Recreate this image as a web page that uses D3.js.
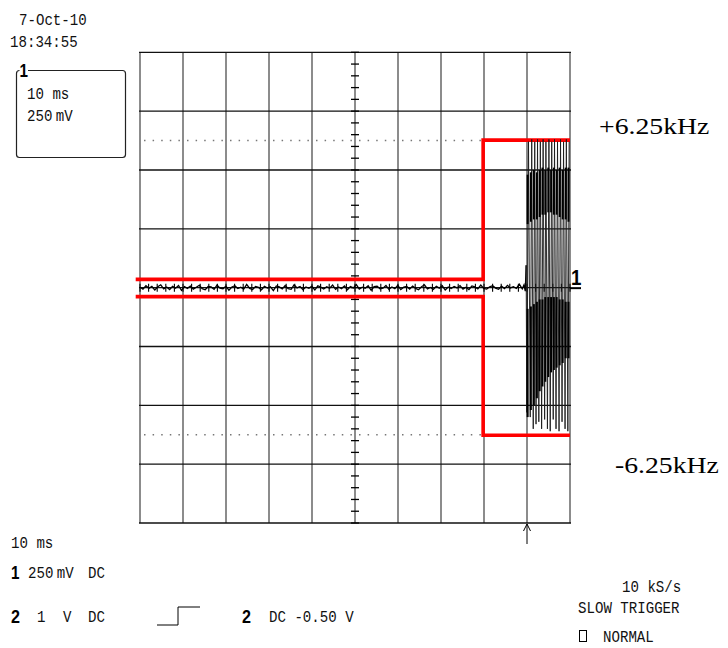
<!DOCTYPE html>
<html><head><meta charset="utf-8">
<script src="https://cdn.jsdelivr.net/npm/d3@7"></script>
<style>body{margin:0;background:#fff}svg{display:block}</style></head>
<body><svg id="c" width="728" height="648"></svg>
<script>
// ---- data ----
// time axis: 10 ms/div, 10 divisions; voltage axis: 250 mV/div, 8 divisions
const timeTicksMs = [0,10,20,30,40,50,60,70,80,90,100];
const voltTicks = [-1,-0.75,-0.5,-0.25,0,0.25,0.5,0.75,1];
const limitLevels = [0.625,-0.625];            // dotted +/-6.25kHz levels
const limitLabels = ["+6.25kHz","-6.25kHz"];
// red mask (upper / lower)
const maskT = [-1, 79.8, 79.8, 100];
const maskUpper = [0.035, 0.035, 0.627, 0.627];
const maskLower = [-0.038, -0.038, -0.627, -0.627];
// noise before burst (mV), sampled evenly from 0 to 88.9 ms
const noiseMV = [2,-6,8,-3,5,-10,4,12,-5,3,
 -8,6,-2,9,-12,4,-3,7,-6,2,
 10,-4,-9,5,3,-7,11,-2,-5,6,
 -11,3,8,-4,2,-6,14,-3,-8,5,
 1,-9,6,-2,4,-13,7,3,-5,9,
 -4,-7,12,-1,5,-8,3,-3,6,-10,
 8,2,-6,4,-2,11,-7,3,-4,7,
 -9,5,-1,13,-6,2,-3,8,-11,4,
 6,-5,-2,9,-7,3,-4,10,-8,2,
 5,-6,7,-3,-9,4,12,-5,1,-7,
 6,-2,8,-10,3,-4,5,-1,9,-6,
 2,-8,7,3,-5,11,-3,-6,4,8,
 -2,-7,6,-4,10,-1,4,-3,15,-5];
const noiseEndMs = 88.9;
// burst (aliased oscillation)
const leadT = [89.3, 89.6, 89.8];
const leadV = [0.012, -0.015, 0.095];
const burstT = [89.95,90.35,90.75,91.1,91.45,91.8,92.1,92.45,92.75,93.1,93.4,93.75,94.1,94.4,94.75,95.1,95.4,95.75,96.1,96.4,96.75,97.1,97.45,97.8,98.15,98.5,98.85,99.15,99.5,99.8];
const burstV = [-0.53,0.62,-0.55,0.63,-0.60,0.62,-0.58,0.63,-0.57,0.62,-0.60,0.63,-0.56,0.62,-0.60,0.63,-0.61,0.62,-0.56,0.63,-0.60,0.62,-0.61,0.63,-0.57,0.62,-0.60,0.63,-0.61,0.62];
const denseT = [90.15,90.9,91.6,92.3,92.95,93.6,94.25,94.95,95.6,96.25,96.9,97.6,98.3,99.0,99.65];
const denseUpTop = [0.48,0.49,0.50,0.49,0.50,0.51,0.50,0.51,0.50,0.51,0.50,0.51,0.50,0.51,0.51];
const denseUpBot = [0.27,0.28,0.29,0.29,0.30,0.31,0.31,0.32,0.32,0.31,0.31,0.30,0.29,0.29,0.28];
const denseLoTop = [-0.09,-0.08,-0.07,-0.06,-0.05,-0.05,-0.04,-0.04,-0.04,-0.04,-0.04,-0.05,-0.05,-0.06,-0.06];
const denseLoBot = [-0.55,-0.52,-0.50,-0.47,-0.44,-0.42,-0.40,-0.38,-0.36,-0.35,-0.34,-0.33,-0.32,-0.30,-0.30];
const triggerMs = 90;

// ---- drawing ----
const svg = d3.select("#c");
const x = d3.scaleLinear().domain([0,100]).range([140,570]);
const y = d3.scaleLinear().domain([-1,1]).range([523,52.3]);

// grid
svg.append("g").selectAll("line").data(timeTicksMs).join("line")
  .attr("x1",d=>x(d)).attr("x2",d=>x(d)).attr("y1",y(1)).attr("y2",y(-1))
  .attr("stroke","#8c8c8c").attr("stroke-width",2);
svg.append("g").selectAll("line").data(voltTicks).join("line")
  .attr("x1",x(0)-1).attr("x2",x(100)+1).attr("y1",d=>y(d)).attr("y2",d=>y(d))
  .attr("stroke","#111").attr("stroke-width",1.3);
// center minor ticks
const vMinor = d3.range(-1,1.0001,0.05);
svg.append("g").selectAll("line").data(vMinor).join("line")
  .attr("x1",x(50)-4).attr("x2",x(50)+4).attr("y1",d=>y(d)).attr("y2",d=>y(d))
  .attr("stroke","#000").attr("stroke-width",1.3);
const tMinor = d3.range(0,100.001,2);
svg.append("g").selectAll("line").data(tMinor).join("line")
  .attr("x1",d=>x(d)).attr("x2",d=>x(d)).attr("y1",y(0)-4).attr("y2",y(0)+4)
  .attr("stroke","#000").attr("stroke-width",1.1);
// dotted levels
svg.append("g").selectAll("line").data(limitLevels).join("line")
  .attr("x1",x(0)+4).attr("x2",x(100)).attr("y1",d=>y(d)).attr("y2",d=>y(d))
  .attr("stroke","#777").attr("stroke-width",1.5).attr("stroke-dasharray","1.5 7.1");

// red mask
const line = d3.line().x(d=>x(d[0])).y(d=>y(d[1]));
[maskUpper, maskLower].forEach(arr=>{
  svg.append("path").attr("d", line(maskT.map((t,i)=>[t,arr[i]])))
    .attr("fill","none").attr("stroke","#ff0000").attr("stroke-width",3.6);
});

// signal
const noiseStep = noiseEndMs/(noiseMV.length-1);
const noisePts = noiseMV.map((v,i)=>[i*noiseStep, v/1000]);
svg.append("path").attr("d", line(noisePts.concat(leadT.map((t,i)=>[t,leadV[i]])))).attr("fill","none")
  .attr("stroke","#000").attr("stroke-width",1.3);
const burstPts = [[leadT[leadT.length-1], leadV[leadV.length-1]]].concat(burstT.map((t,i)=>[t,burstV[i]]));
svg.append("path").attr("d", line(burstPts)).attr("fill","none")
  .attr("stroke","#1a1a1a").attr("stroke-width",0.9);
const dense = svg.append("g").attr("stroke","#000").attr("stroke-width",2);
denseT.forEach((t,i)=>{
  dense.append("line").attr("x1",x(t)).attr("x2",x(t)).attr("y1",y(denseUpTop[i])).attr("y2",y(denseUpBot[i]));
  dense.append("line").attr("x1",x(t)).attr("x2",x(t)).attr("y1",y(denseLoTop[i])).attr("y2",y(denseLoBot[i]));
});

// channel marker at right
svg.append("path").attr("d",`M${x(100)},${y(0)+0.5}H${x(100)+11}`).attr("stroke","#000").attr("stroke-width",2);
function bold(xx,yy,s,size,sx){
  svg.append("text").attr("transform",`translate(${xx},${yy}) scale(${sx},1)`)
    .attr("font-family","'Liberation Sans',Arial,sans-serif").attr("font-weight","bold")
    .attr("font-size",size).text(s);
}
function mono(xx,yy,s,size=17,sx=0.83){
  return svg.append("text").attr("transform",`translate(${xx},${yy}) scale(${sx},1)`)
    .attr("font-family","'Liberation Mono','DejaVu Sans Mono',monospace")
    .attr("font-size",size).attr("fill","#111").text(s);
}
bold(571,285,"1",22,0.85);

// trigger arrow
svg.append("path").attr("d",`M${x(triggerMs)},${y(-1)+21}V${y(-1)+1}M${x(triggerMs)-3.5},${y(-1)+8}L${x(triggerMs)},${y(-1)+1}L${x(triggerMs)+3.5},${y(-1)+8}`)
  .attr("fill","none").attr("stroke","#000").attr("stroke-width",1);

// right labels
svg.append("text").attr("transform","translate(599,134) scale(1.18,1)")
  .attr("font-family","'Liberation Serif','Times New Roman',serif").attr("font-size",23.5).text(limitLabels[0]);
svg.append("text").attr("transform","translate(615,473) scale(1.18,1)")
  .attr("font-family","'Liberation Serif','Times New Roman',serif").attr("font-size",23.5).text(limitLabels[1]);

// top-left info
mono(19,25,"7-Oct-10");
mono(10,47,"18:34:55");
svg.append("rect").attr("x",16.5).attr("y",70.5).attr("width",109).attr("height",87).attr("rx",3)
  .attr("fill","none").attr("stroke","#222").attr("stroke-width",1.2);
svg.append("rect").attr("x",19.5).attr("y",66).attr("width",8.5).attr("height",8).attr("fill","#fff");
bold(19.5,77,"1",19,0.8);
mono(27,99,"10 ms");
const t250 = mono(27,121,"250");
t250.append("tspan").attr("dx",4).text("mV");

// bottom info
mono(11,548,"10 ms");
bold(11,579,"1",19,0.8);
const b250 = mono(28,578,"250"); b250.append("tspan").attr("dx",4).text("mV");
mono(88,578,"DC");
bold(11,623,"2",19,0.85);
mono(37,622,"1");
mono(63,622,"V");
mono(88,622,"DC");
svg.append("path").attr("d","M157,625H178V607H200").attr("fill","none").attr("stroke","#000").attr("stroke-width",1);
bold(242,623,"2",19,0.85);
mono(269,622,"DC -0.50 V");
mono(622,592,"10 kS/s");
mono(578,613,"SLOW TRIGGER");
svg.append("rect").attr("x",579.5).attr("y",630.5).attr("width",7).attr("height",11).attr("fill","none").attr("stroke","#000").attr("stroke-width",1);
mono(603,642,"NORMAL");
</script></body></html>
